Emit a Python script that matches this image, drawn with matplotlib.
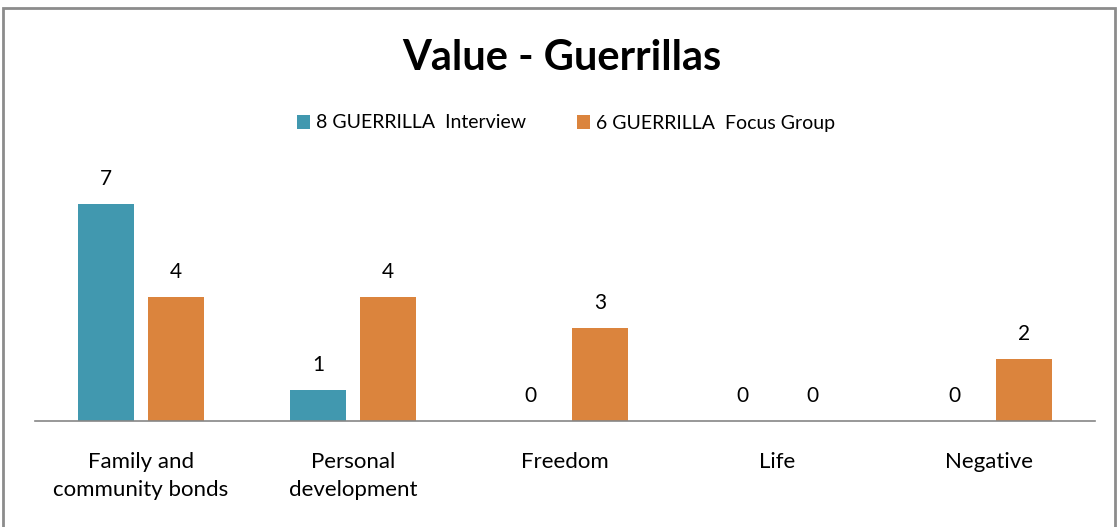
import matplotlib
matplotlib.use("Agg")
import matplotlib.pyplot as plt
import numpy as np
from matplotlib.patches import Rectangle

categories = ["Family and\ncommunity bonds", "Personal\ndevelopment", "Freedom", "Life", "Negative"]
series_names = ["8 GUERRILLA  Interview", "6 GUERRILLA  Focus Group"]
interview = [7, 1, 0, 0, 0]
focus_group = [4, 4, 3, 0, 2]
colors = ["#4198AF", "#DB843D"]

plt.rcParams['font.family'] = ['Lato', 'DejaVu Sans']

W, H = 1118, 527
fig = plt.figure(figsize=(W / 100, H / 100), dpi=100)
fig.patch.set_facecolor("white")

# outer chart border
fig.add_artist(Rectangle((3 / W, -0.05), (1115 - 3) / W, 1 - 8 / H + 0.05,
                         transform=fig.transFigure, fill=False,
                         edgecolor="#8c8c8c", lw=2))

ax = fig.add_axes([35 / W, 1 - 421 / H, (1095 - 35) / W, (421 - 173) / H])
x = np.arange(len(categories))
bw = 56 / 212
gap = 14 / 212
off = (bw + gap) / 2
b1 = ax.bar(x - off, interview, bw, color=colors[0], label=series_names[0])
b2 = ax.bar(x + off, focus_group, bw, color=colors[1], label=series_names[1])

for bars, vals in ((b1, interview), (b2, focus_group)):
    for rect, v in zip(bars, vals):
        ax.annotate(str(v), (rect.get_x() + rect.get_width() / 2, v),
                    xytext=(0, 11), textcoords="offset points",
                    ha="center", va="bottom", fontsize=15, color="black")

ax.set_xlim(-0.5, len(categories) - 0.5)
ax.set_ylim(0, 8)
ax.set_yticks([])
ax.set_xticks(x)
ax.set_xticklabels(categories, fontsize=16, linespacing=1.55)
ax.tick_params(axis="x", length=0, pad=22)
for s in ["top", "right", "left"]:
    ax.spines[s].set_visible(False)
ax.spines["bottom"].set_color("#868686")
ax.spines["bottom"].set_linewidth(1.2)

fig.text(562 / W, 1 - 58 / H, "Value - Guerrillas", ha="center", va="center",
         fontsize=30, fontweight="bold")

fig.legend(handles=[b1, b2], labels=series_names, loc="center",
           bbox_to_anchor=(566 / W, 1 - 123 / H), ncol=2, frameon=False,
           fontsize=14, handlelength=0.7, handleheight=0.7,
           handletextpad=0.3, columnspacing=2.6)

fig.savefig("out.png", dpi=100)
